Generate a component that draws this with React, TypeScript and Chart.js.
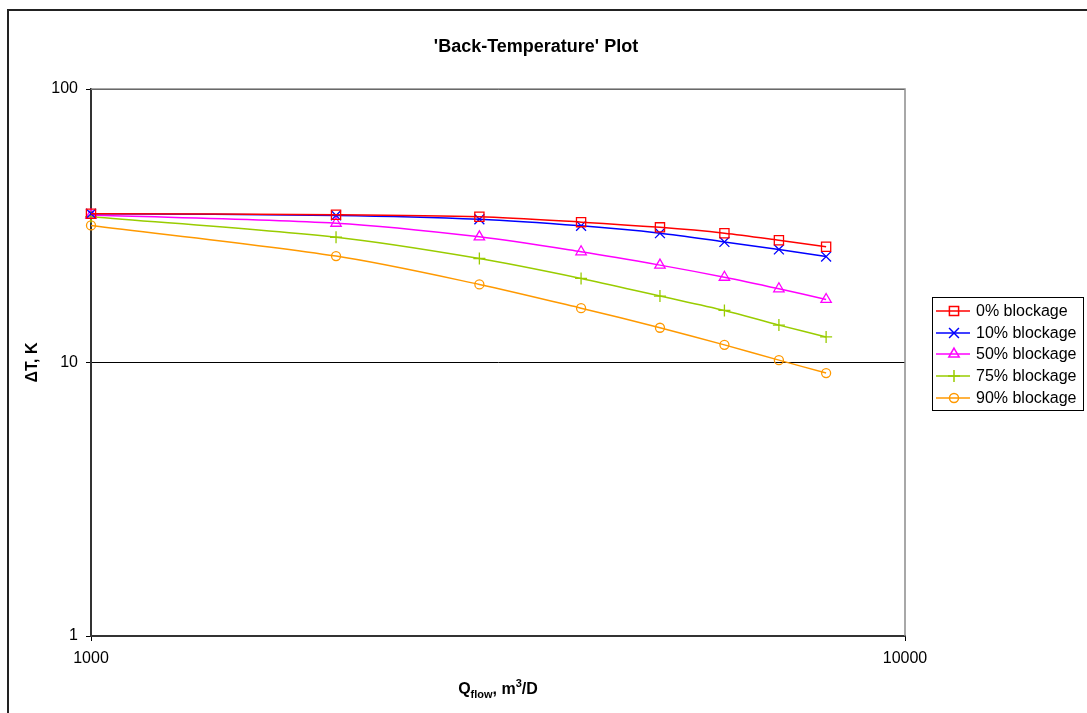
import React, { useEffect, useRef } from 'react';
import { Chart, registerables } from 'chart.js';
Chart.register(...registerables);

const flowRates = [1000, 2000, 3000, 4000, 5000, 6000, 7000, 8000];
const seriesNames = ['0% blockage', '10% blockage', '50% blockage', '75% blockage', '90% blockage'];
const dT0 = [35.0, 34.7, 34.1, 32.6, 31.2, 29.7, 28.0, 26.5];
const dT10 = [35.0, 34.5, 33.4, 31.6, 29.7, 27.6, 25.9, 24.4];
const dT50 = [34.6, 32.3, 28.8, 25.4, 22.7, 20.5, 18.6, 17.0];
const dT75 = [34.1, 28.7, 24.0, 20.3, 17.5, 15.5, 13.7, 12.4];
const dT90 = [31.7, 24.5, 19.3, 15.8, 13.4, 11.6, 10.2, 9.15];
const seriesValues = [dT0, dT10, dT50, dT75, dT90];
const seriesColors = ['#FF0000', '#0000FF', '#FF00FF', '#99CC00', '#FF9900'];
const seriesMarkers = ['rect', 'crossRot', 'triangle', 'cross', 'circle'];
const markerRadius = [6.5, 7, 6, 6, 4.5];
const xTicks = [1000, 10000];
const yTicks = [1, 10, 100];
const chartTitle = "'Back-Temperature' Plot";
const yTitle = 'ΔT, K';

const FONT = '"Liberation Sans", Arial, sans-serif';

function drawMarker(ctx: CanvasRenderingContext2D, style: string, x: number, y: number, r: number) {
  ctx.beginPath();
  if (style === 'rect') {
    const s = Math.SQRT1_2 * r;
    ctx.rect(x - s, y - s, 2 * s, 2 * s);
  } else if (style === 'crossRot') {
    const s = Math.SQRT1_2 * r;
    ctx.moveTo(x - s, y - s); ctx.lineTo(x + s, y + s);
    ctx.moveTo(x - s, y + s); ctx.lineTo(x + s, y - s);
  } else if (style === 'triangle') {
    const h = r * 1.5;
    ctx.moveTo(x, y - h * 2 / 3);
    ctx.lineTo(x + r * 0.866, y + h / 3);
    ctx.lineTo(x - r * 0.866, y + h / 3);
    ctx.closePath();
  } else if (style === 'cross') {
    ctx.moveTo(x, y - r); ctx.lineTo(x, y + r);
    ctx.moveTo(x - r, y); ctx.lineTo(x + r, y);
  } else {
    ctx.arc(x, y, r, 0, Math.PI * 2);
  }
  ctx.stroke();
}

const decorPlugin = {
  id: 'decor',
  afterDraw(chart: any) {
    const ctx: CanvasRenderingContext2D = chart.ctx;
    const a = chart.chartArea;
    ctx.save();
    // outer frame (top & left)
    ctx.strokeStyle = '#222';
    ctx.lineWidth = 2;
    ctx.beginPath();
    ctx.moveTo(8, 713);
    ctx.lineTo(8, 10);
    ctx.lineTo(1087, 10);
    ctx.stroke();
    // plot area border top & right
    ctx.strokeStyle = '#8c8c8c';
    ctx.lineWidth = 1.5;
    ctx.beginPath();
    ctx.moveTo(a.left, a.top);
    ctx.lineTo(a.right, a.top);
    ctx.lineTo(a.right, a.bottom);
    ctx.stroke();

    ctx.fillStyle = '#000';
    // title
    ctx.font = `bold 18px ${FONT}`;
    ctx.textAlign = 'center';
    ctx.textBaseline = 'middle';
    ctx.fillText(chartTitle, 536, 47);

    // y title
    ctx.save();
    ctx.translate(33, (a.top + a.bottom) / 2);
    ctx.rotate(-Math.PI / 2);
    ctx.font = `bold 16px ${FONT}`;
    ctx.fillText(yTitle, 0, 0);
    ctx.restore();

    // x title with sub/superscript
    const parts = [
      { t: 'Q', f: `bold 16px ${FONT}`, dy: 0 },
      { t: 'flow', f: `bold 11px ${FONT}`, dy: 4 },
      { t: ', m', f: `bold 16px ${FONT}`, dy: 0 },
      { t: '3', f: `bold 11px ${FONT}`, dy: -7 },
      { t: '/D', f: `bold 16px ${FONT}`, dy: 0 },
    ];
    let total = 0;
    for (const p of parts) { ctx.font = p.f; total += ctx.measureText(p.t).width; }
    let x = (a.left + a.right) / 2 - total / 2;
    ctx.textAlign = 'left';
    ctx.textBaseline = 'alphabetic';
    for (const p of parts) {
      ctx.font = p.f;
      ctx.fillText(p.t, x, 694 + p.dy);
      x += ctx.measureText(p.t).width;
    }

    // legend
    const lx = 932, ly = 297, lw = 151, lh = 113;
    ctx.fillStyle = '#fff';
    ctx.fillRect(lx, ly, lw, lh);
    ctx.strokeStyle = '#000';
    ctx.lineWidth = 1;
    ctx.strokeRect(lx + 0.5, ly + 0.5, lw, lh);
    const rowY = [311, 333, 354, 376, 398];
    ctx.font = `16px ${FONT}`;
    ctx.textBaseline = 'middle';
    chart.data.datasets.forEach((ds: any, i: number) => {
      const y = rowY[i];
      ctx.strokeStyle = ds.borderColor;
      ctx.lineWidth = 1.5;
      ctx.beginPath();
      ctx.moveTo(936, y);
      ctx.lineTo(970, y);
      ctx.stroke();
      drawMarker(ctx, ds.pointStyle, 954, y, ds.pointRadius);
      ctx.fillStyle = '#000';
      ctx.fillText(ds.label, 976, y + 1);
    });
    ctx.restore();
  },
};

export default function App() {
  const ref = useRef<HTMLCanvasElement>(null);
  useEffect(() => {
    document.body.style.margin = '0';
    const datasets = seriesNames.map((name, i) => ({
      label: name,
      data: flowRates.map((q, j) => ({ x: q, y: seriesValues[i][j] })),
      borderColor: seriesColors[i],
      backgroundColor: 'rgba(0,0,0,0)',
      pointBackgroundColor: 'rgba(0,0,0,0)',
      pointBorderColor: seriesColors[i],
      pointStyle: seriesMarkers[i],
      pointRadius: markerRadius[i],
      pointBorderWidth: 1.3,
      borderWidth: 1.5,
      tension: 0.3,
      clip: false,
    }));
    const chart = new Chart(ref.current!, {
      type: 'line',
      data: { datasets },
      plugins: [decorPlugin],
      options: {
        responsive: false,
        animation: false,
        layout: { padding: { left: 0, top: 89, right: 182, bottom: 0 } },
        plugins: { legend: { display: false }, title: { display: false }, tooltip: { enabled: false } },
        scales: {
          x: {
            type: 'logarithmic',
            min: 1000,
            max: 10000,
            afterBuildTicks: (s: any) => { s.ticks = xTicks.map(v => ({ value: v })); },
            afterFit: (s: any) => { s.height = 77; },
            ticks: {
              callback: (v: any) => String(v),
              color: '#000',
              font: { family: FONT, size: 16 },
              padding: 8,
              maxRotation: 0,
              autoSkip: false,
            },
            grid: { drawOnChartArea: false, drawTicks: true, tickLength: 5, color: '#000' },
            border: { color: '#333', width: 2 },
          },
          y: {
            type: 'logarithmic',
            min: 1,
            max: 100,
            afterBuildTicks: (s: any) => { s.ticks = yTicks.map(v => ({ value: v })); },
            afterFit: (s: any) => { s.width = 91; },
            ticks: {
              callback: (v: any) => String(v),
              color: '#000',
              font: { family: FONT, size: 16 },
              padding: 8,
              autoSkip: false,
            },
            grid: { drawOnChartArea: true, drawTicks: true, tickLength: 5, color: '#000', lineWidth: 1 },
            border: { color: '#333', width: 2 },
          },
        },
      } as any,
    });
    return () => chart.destroy();
  }, []);
  return (
    <div style={{ width: 1087, height: 713, background: '#fff' }}>
      <canvas ref={ref} width={1087} height={713} style={{ display: 'block' }} />
    </div>
  );
}
